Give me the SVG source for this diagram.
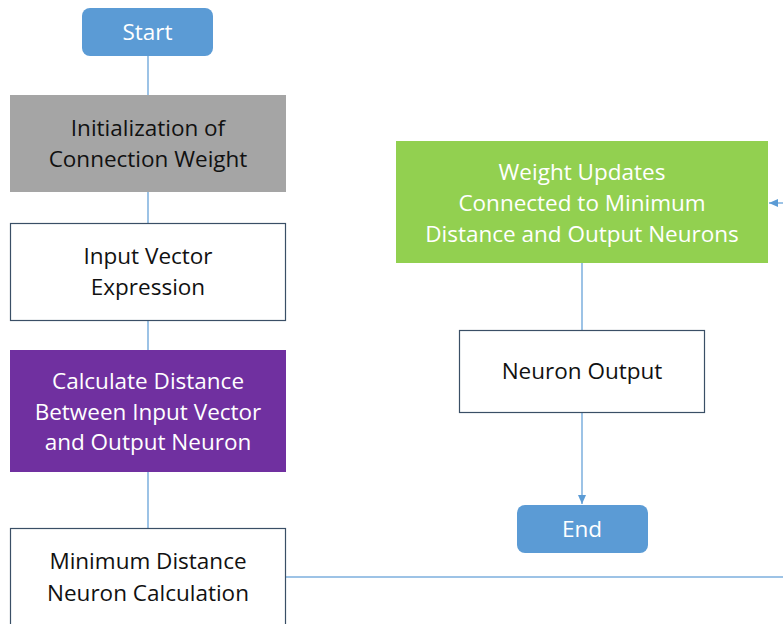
<svg xmlns="http://www.w3.org/2000/svg" width="783" height="624" viewBox="0 0 783 624">
<style>
text{font-family:"Open Sans","Liberation Sans",Arial,sans-serif;font-size:22.5px;text-anchor:middle}
.w{fill:#ffffff}
.k{fill:#111111}
.box{fill:#ffffff;stroke:#3A4F66;stroke-width:1.2}
.c{stroke:#5B9BD5;stroke-width:1.2;fill:none}
</style>
<defs>
<marker id="ah" markerWidth="10" markerHeight="10" refX="9" refY="5" orient="auto" markerUnits="userSpaceOnUse">
<path d="M0,1 L9,5 L0,9 Z" fill="#5B9BD5"/>
</marker>
</defs>
<rect width="783" height="624" fill="#ffffff"/>
<g id="connectors">
<line class="c" x1="148" y1="56" x2="148" y2="95"/>
<line class="c" x1="148" y1="192" x2="148" y2="223"/>
<line class="c" x1="148" y1="320" x2="148" y2="350"/>
<line class="c" x1="148" y1="472" x2="148" y2="528"/>
<line class="c" x1="286" y1="577" x2="783" y2="577" style="stroke:#9DC3E6;stroke-width:2"/>
<line class="c" x1="783" y1="203" x2="769" y2="203" marker-end="url(#ah)"/>
<line class="c" x1="582" y1="263" x2="582" y2="330"/>
<line class="c" x1="582" y1="412" x2="582" y2="504" marker-end="url(#ah)"/>
</g>
<g id="start">
<rect x="82" y="8" width="131" height="48" rx="8" fill="#5B9BD5"/>
<text class="w" x="147.5" y="40">Start</text>
</g>
<g id="init">
<rect x="10" y="95" width="276" height="97" fill="#A5A5A5"/>
<text class="k" x="148" y="136">Initialization of</text>
<text class="k" x="148" y="167">Connection Weight</text>
</g>
<g id="input">
<rect class="box" x="10.5" y="223.5" width="275" height="97"/>
<text class="k" x="148" y="264">Input Vector</text>
<text class="k" x="148" y="295">Expression</text>
</g>
<g id="calc">
<rect x="10" y="350" width="276" height="122" fill="#7030A0"/>
<text class="w" x="148" y="389">Calculate Distance</text>
<text class="w" x="148" y="420">Between Input Vector</text>
<text class="w" x="148" y="450">and Output Neuron</text>
</g>
<g id="minimum">
<rect class="box" x="10.5" y="528.5" width="275" height="110"/>
<text class="k" x="148" y="569">Minimum Distance</text>
<text class="k" x="148" y="601">Neuron Calculation</text>
</g>
<g id="update">
<rect x="396" y="141" width="372" height="122" fill="#92D050"/>
<text class="w" x="582" y="180">Weight Updates</text>
<text class="w" x="582" y="211">Connected to Minimum</text>
<text class="w" x="582" y="242">Distance and Output Neurons</text>
</g>
<g id="output">
<rect class="box" x="459.5" y="330.5" width="245" height="82"/>
<text class="k" x="582" y="379">Neuron Output</text>
</g>
<g id="end">
<rect x="517" y="505" width="131" height="48" rx="8" fill="#5B9BD5"/>
<text class="w" x="582" y="537">End</text>
</g>
</svg>
